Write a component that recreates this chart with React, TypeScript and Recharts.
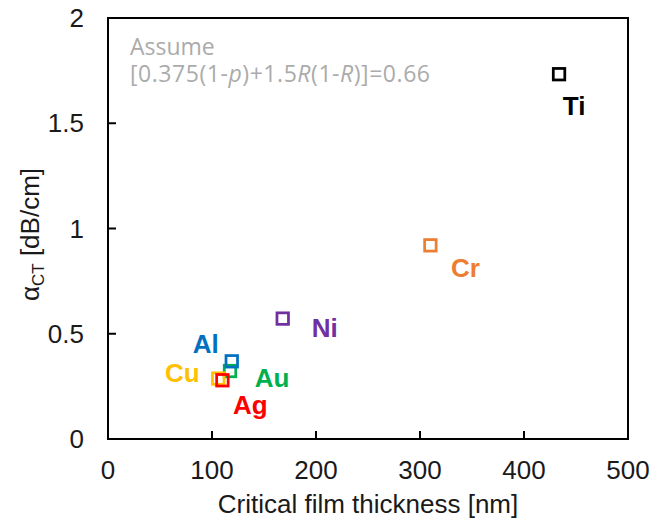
import React from 'react';
import { ScatterChart, Scatter, XAxis, YAxis, ReferenceArea } from 'recharts';

const metals = ['Ti', 'Cr', 'Ni', 'Au', 'Al', 'Cu', 'Ag'];
const thicknessNm = [433.7, 310, 168, 117.3, 119, 106, 110];
const alphaCT = [1.733, 0.92, 0.572, 0.323, 0.369, 0.287, 0.279];
const metalColors = ['#000000', '#ED7D31', '#7030A0', '#00B050', '#0070C0', '#FFC000', '#FF0000'];

const xTicks = [0, 100, 200, 300, 400, 500];
const yTicks = [0, 0.5, 1, 1.5, 2];

const xTitle = 'Critical film thickness [nm]';
const yTitleMain = 'α';
const yTitleSub = 'CT';
const yTitleUnit = ' [dB/cm]';
const noteLine1 = 'Assume';

// label placement relative to marker center (dx, baseline dy)
const labelOffsets: Record<string, [number, number]> = {
  Ti: [15, 41],
  Cr: [35, 32],
  Ni: [42, 18],
  Al: [-26, -8],
  Cu: [-36, 3],
  Au: [42, 16],
  Ag: [28, 34],
};

const FONT = '"Liberation Sans", Arial, sans-serif';
const TICK_FS = 26;

const XTick = (props: any) => {
  const { x, y, payload } = props;
  const v = payload.value;
  const inner = v !== xTicks[0] && v !== xTicks[xTicks.length - 1];
  return (
    <g>
      {inner && <line x1={x} y1={y} x2={x} y2={y - 8} stroke="#000" strokeWidth={2} />}
      <text x={x} y={y + 40} textAnchor="middle" fontFamily={FONT} fontSize={TICK_FS} fill="#1a1a1a">
        {v}
      </text>
    </g>
  );
};

const YTick = (props: any) => {
  const { x, y, payload } = props;
  const v = payload.value;
  const inner = v !== yTicks[0] && v !== yTicks[yTicks.length - 1];
  return (
    <g>
      {inner && <line x1={x} y1={y} x2={x + 8} y2={y} stroke="#000" strokeWidth={2} />}
      <text x={x - 24} y={y + 9} textAnchor="end" fontFamily={FONT} fontSize={TICK_FS} fill="#1a1a1a">
        {v}
      </text>
    </g>
  );
};

const makeShape = (name: string, color: string) => (props: any) => {
  const { cx, cy } = props;
  const [dx, dy] = labelOffsets[name];
  const s = 11.5;
  return (
    <g>
      <rect x={cx - s / 2} y={cy - s / 2} width={s} height={s} fill="none" stroke={color} strokeWidth={2.75} />
      <text x={cx + dx} y={cy + dy} textAnchor="middle" fontFamily={FONT} fontWeight="bold" fontSize={26} fill={color}>
        {name}
      </text>
    </g>
  );
};

const XTitle = (props: any) => {
  const vb = props.viewBox;
  return (
    <text x={vb.x + vb.width / 2} y={vb.y + 74} textAnchor="middle" fontFamily={FONT} fontSize={TICK_FS} fill="#1a1a1a">
      {xTitle}
    </text>
  );
};

const YTitle = (props: any) => {
  const vb = props.viewBox;
  const cx = 31;
  const cy = vb.y + vb.height / 2 + 6;
  return (
    <text
      x={cx}
      y={cy}
      transform={`rotate(-90, ${cx}, ${cy})`}
      textAnchor="middle"
      fontFamily={FONT}
      fontSize={TICK_FS}
      fill="#1a1a1a"
    >
      {yTitleMain}
      <tspan fontSize={17} dy={5}>{yTitleSub}</tspan>
      <tspan dy={-5}>{yTitleUnit}</tspan>
    </text>
  );
};

const Note = (props: any) => {
  const vb = props.viewBox;
  const x = vb.x + 22;
  const nf = '"Open Sans", sans-serif';
  return (
    <g fontFamily={nf} fontSize={23} fill="#ABABAB">
      <text x={x} y={vb.y + 37}>{noteLine1}</text>
      <text x={x} y={vb.y + 64} textLength={300}>
        [0.375(1-<tspan fontStyle="italic">p</tspan>)+1.5<tspan fontStyle="italic">R</tspan>(1-<tspan fontStyle="italic">R</tspan>)]=0.66
      </text>
    </g>
  );
};

export default function App() {
  return (
    <ScatterChart width={656} height={520} margin={{ top: 10, right: 36, bottom: 0, left: 0 }}>
      <XAxis
        type="number"
        dataKey="x"
        domain={[0, 500]}
        ticks={xTicks}
        interval={0}
        axisLine={false}
        tickLine={false}
        tickSize={0}
        tickMargin={0}
        height={89}
        tick={XTick}
        label={{ content: XTitle }}
      />
      <YAxis
        type="number"
        dataKey="y"
        domain={[0, 2]}
        ticks={yTicks}
        interval={0}
        axisLine={false}
        tickLine={false}
        tickSize={0}
        tickMargin={0}
        width={100}
        tick={YTick}
        label={{ content: YTitle }}
      />
      <ReferenceArea
        x1={0}
        x2={500}
        y1={0}
        y2={2}
        fill="none"
        fillOpacity={0}
        stroke="#000"
        strokeWidth={2}
        label={{ content: Note }}
      />
      {metals.map((m, i) => (
        <Scatter
          key={m}
          name={m}
          data={[{ x: thicknessNm[i], y: alphaCT[i] }]}
          shape={makeShape(m, metalColors[i])}
          isAnimationActive={false}
        />
      ))}
    </ScatterChart>
  );
}
